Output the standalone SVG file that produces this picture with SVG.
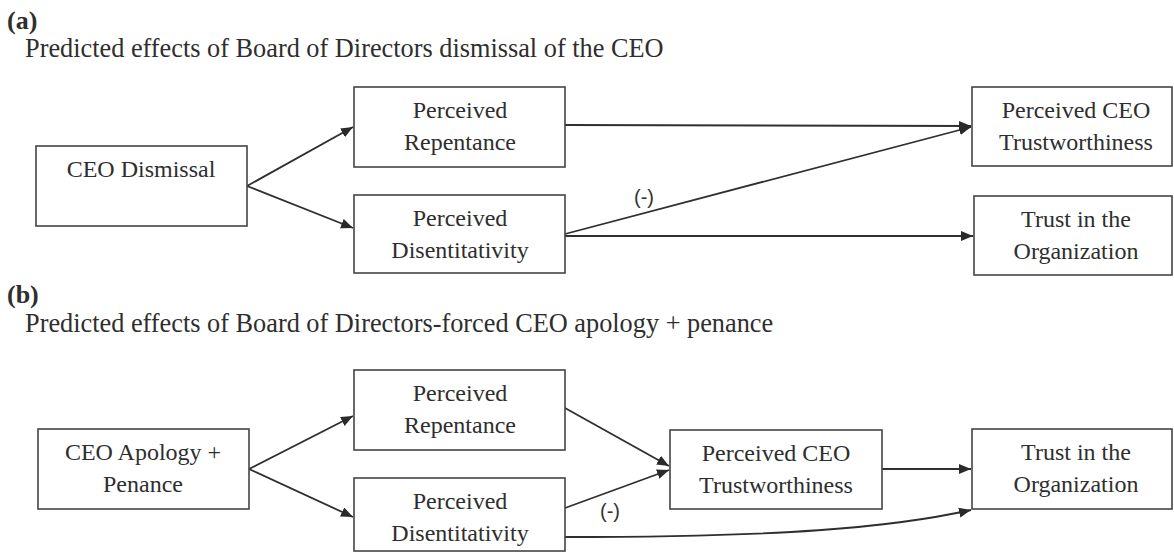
<svg xmlns="http://www.w3.org/2000/svg" width="1174" height="553" viewBox="0 0 1174 553">
<defs>
<marker id="ah" markerUnits="userSpaceOnUse" markerWidth="14" markerHeight="11" refX="12" refY="5" orient="auto">
<path d="M0,0 L12,5 L0,10 z" fill="#2a2a2a"/>
</marker>
<style>
.bg{fill:#ffffff}
.box{fill:#ffffff;stroke:#444444;stroke-width:1.6}
.t{font-family:"Liberation Serif","Times New Roman",serif;font-size:24px;fill:#2e2e2e;text-anchor:middle}
.h{font-family:"Liberation Serif","Times New Roman",serif;font-size:26.3px;fill:#2e2e2e}
.hb{font-family:"Liberation Serif","Times New Roman",serif;font-size:26px;font-weight:bold;fill:#2e2e2e}
.lbl{font-family:"Liberation Sans",Arial,sans-serif;font-size:20px;fill:#333333;text-anchor:middle}
.c{fill:none;stroke:#2f2f2f;stroke-width:1.8;marker-end:url(#ah)}
</style>
</defs>
<rect class="bg" x="0" y="0" width="1174" height="553"/>

<g id="headings">
<text class="hb" x="7" y="29">(a)</text>
<text class="h" x="25" y="57">Predicted effects of Board of Directors dismissal of the CEO</text>
<text class="hb" x="7" y="303">(b)</text>
<text class="h" x="25" y="332">Predicted effects of Board of Directors-forced CEO apology + penance</text>
</g>

<g id="connectors">
<path class="c" d="M247,186 L353,127"/>
<path class="c" d="M247,186 L353,228"/>
<path class="c" d="M565,125 L971,126"/>
<path class="c" d="M565,234 L971,127"/>
<path class="c" d="M565,236 L973,236"/>
<path class="c" d="M249,469 L353,416"/>
<path class="c" d="M249,469 L353,517"/>
<path class="c" d="M565,408 L669,466"/>
<path class="c" d="M565,508 L669,470"/>
<path class="c" d="M882,469 L971,469"/>
<path class="c" d="M565,537 C780,537 890,528 971,510"/>
<text class="lbl" x="644" y="204">(-)</text>
<text class="lbl" x="610" y="518">(-)</text>
</g>

<g id="a-ceo-dismissal">
<rect class="box" x="36" y="146" width="211" height="80"/>
<text class="t" x="141" y="177">CEO Dismissal</text>
</g>
<g id="a-repentance">
<rect class="box" x="354" y="87" width="211" height="80"/>
<text class="t" x="460" y="118">Perceived</text>
<text class="t" x="460" y="150">Repentance</text>
</g>
<g id="a-disentitativity">
<rect class="box" x="354" y="195" width="211" height="78"/>
<text class="t" x="460" y="226">Perceived</text>
<text class="t" x="460" y="258">Disentitativity</text>
</g>
<g id="a-ceo-trust">
<rect class="box" x="972" y="87" width="200" height="79"/>
<text class="t" x="1076" y="118">Perceived CEO</text>
<text class="t" x="1076" y="150">Trustworthiness</text>
</g>
<g id="a-org-trust">
<rect class="box" x="974" y="196" width="198" height="79"/>
<text class="t" x="1076" y="227">Trust in the</text>
<text class="t" x="1076" y="259">Organization</text>
</g>

<g id="b-apology">
<rect class="box" x="38" y="429" width="211" height="80"/>
<text class="t" x="143" y="460">CEO Apology +</text>
<text class="t" x="143" y="492">Penance</text>
</g>
<g id="b-repentance">
<rect class="box" x="354" y="370" width="211" height="80"/>
<text class="t" x="460" y="401">Perceived</text>
<text class="t" x="460" y="433">Repentance</text>
</g>
<g id="b-disentitativity">
<rect class="box" x="354" y="478" width="211" height="73"/>
<text class="t" x="460" y="509">Perceived</text>
<text class="t" x="460" y="541">Disentitativity</text>
</g>
<g id="b-ceo-trust">
<rect class="box" x="670" y="430" width="212" height="79"/>
<text class="t" x="776" y="461">Perceived CEO</text>
<text class="t" x="776" y="493">Trustworthiness</text>
</g>
<g id="b-org-trust">
<rect class="box" x="972" y="429" width="200" height="80"/>
<text class="t" x="1076" y="460">Trust in the</text>
<text class="t" x="1076" y="492">Organization</text>
</g>
</svg>
